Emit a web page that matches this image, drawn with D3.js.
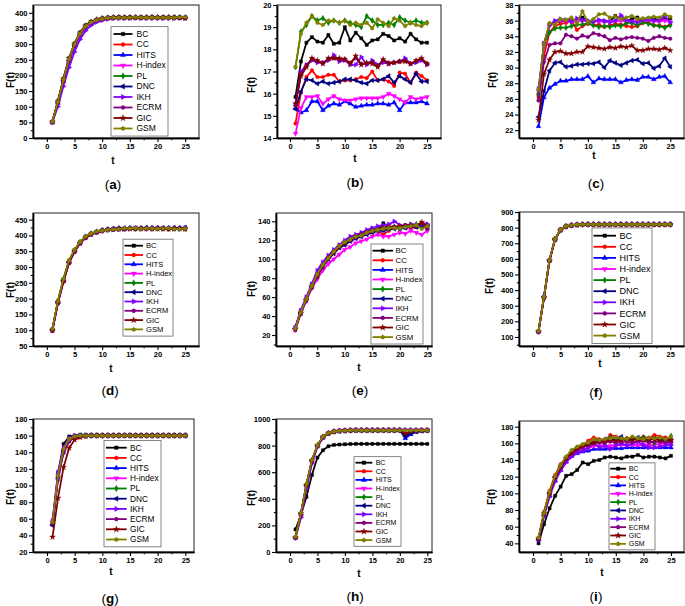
<!DOCTYPE html>
<html><head><meta charset="utf-8">
<script src="https://cdn.jsdelivr.net/npm/d3@7"></script>
<style>
body{margin:0;background:#fff}
svg{display:block}
text{font-family:"Liberation Sans",Arial,sans-serif}
</style>
</head><body>
<svg id="chart" width="685" height="606"></svg>
<script>
const tValues = [1,2,3,4,5,6,7,8,9,10,11,12,13,14,15,16,17,18,19,20,21,22,23,24,25];
const seriesNames = ["BC","CC","HITS","H-index","PL","DNC","IKH","ECRM","GIC","GSM"];
const xTickLabels = [0,5,10,15,20,25];

const panelA = [
 [52,118,190,255,302,337,360,372,378,382,385,385,386,385,386,385,386,385,386,385,386,385,385,386,385],
 [52,115,186,250,298,333,357,370,377,381,384,385,385,385,385,385,385,385,385,385,385,385,385,385,384],
 [51,112,182,246,295,330,355,368,376,380,383,384,385,384,385,385,384,385,385,385,384,385,385,384,385],
 [50,110,178,240,290,327,352,366,375,379,383,384,384,384,384,385,384,384,384,384,384,384,384,384,384],
 [52,116,188,252,300,335,358,371,378,382,384,385,385,385,385,386,385,385,385,385,385,385,385,385,385],
 [51,114,184,248,297,332,356,369,377,381,384,385,385,385,385,385,385,385,385,385,385,385,385,385,385],
 [50,100,165,225,275,315,343,360,370,376,380,382,383,383,383,384,383,383,383,383,383,383,383,384,383],
 [51,113,183,247,296,331,355,369,376,380,383,384,384,384,384,384,384,384,384,384,384,384,384,384,384],
 [52,117,189,254,301,336,359,371,378,382,384,385,386,385,385,385,385,385,386,385,385,386,385,385,383],
 [52,116,187,252,300,334,357,370,377,381,384,385,385,385,385,386,385,385,385,385,385,385,385,386,386]
];
const panelB = [
 [15.85,17.45,18.3,18.55,18.35,18.3,18.65,18.25,18.3,19.0,18.4,18.75,18.5,18.2,18.4,18.45,18.7,18.6,18.4,18.5,18.35,18.7,18.45,18.3,18.3],
 [14.65,16.05,16.75,17.05,16.75,16.75,16.85,16.85,16.55,16.6,16.6,16.65,16.75,16.7,17.0,16.6,16.65,16.55,16.35,16.95,16.9,16.5,16.95,16.8,16.6],
 [15.35,15.15,15.25,15.65,15.65,15.25,15.45,15.55,15.5,15.65,15.55,15.4,15.45,15.5,15.5,15.55,15.55,15.5,15.6,15.25,15.6,15.6,15.6,15.65,15.55],
 [14.2,15.35,15.85,15.85,15.9,15.55,15.75,15.9,15.75,15.7,15.7,15.75,15.8,15.8,15.8,15.8,15.85,16.0,15.9,15.75,15.6,15.85,15.75,15.8,15.85],
 [17.2,18.8,19.1,19.5,19.3,19.4,19.2,19.3,19.2,19.3,19.2,19.1,19.0,19.5,19.3,19.1,19.1,19.2,19.1,19.45,19.3,19.2,19.3,19.2,19.2],
 [15.3,16.1,16.65,16.6,16.45,16.55,16.45,16.5,16.55,16.65,16.65,16.6,16.5,16.45,16.6,16.6,16.65,16.8,16.5,16.8,16.65,16.5,16.9,16.55,16.55],
 [15.5,17.0,17.3,17.5,17.4,17.4,17.5,17.75,17.45,17.5,17.3,17.3,17.65,17.3,17.5,17.3,17.4,17.35,17.4,17.45,17.6,17.35,17.4,17.5,17.3],
 [15.45,16.9,17.3,17.55,17.45,17.4,17.55,17.6,17.5,17.55,17.4,17.6,17.35,17.35,17.45,17.25,17.5,17.4,17.4,17.45,17.5,17.35,17.45,17.55,17.35],
 [15.55,16.8,17.2,17.6,17.5,17.35,17.6,17.6,17.6,17.55,17.35,17.7,17.3,17.4,17.35,17.2,17.55,17.35,17.4,17.45,17.45,17.35,17.5,17.6,17.35],
 [17.2,18.7,19.2,19.5,19.2,19.1,19.3,19.3,19.2,19.3,19.1,19.2,19.1,19.2,18.95,19.35,19.2,19.05,19.4,19.3,19.05,19.2,19.1,19.05,19.2]
];
const panelC = [
 [26.6,33.0,35.5,35.8,35.9,36.0,36.1,36.1,36.4,35.8,35.9,36.0,35.9,35.9,36.6,36.2,36.0,36.2,36.4,35.9,36.0,36.3,36.0,36.2,36.3],
 [26.2,31.5,34.5,35.3,35.6,35.7,36.0,34.8,35.3,35.6,35.4,35.5,35.2,35.4,35.6,35.5,35.3,35.2,35.3,35.7,35.8,35.4,35.4,35.2,35.5],
 [22.5,26.2,27.4,27.9,28.3,28.3,28.5,28.5,28.5,28.9,28.1,28.6,28.5,28.5,28.5,28.1,28.4,28.5,28.4,28.8,28.8,28.5,28.8,28.9,28.1],
 [27.0,33.0,35.3,35.8,36.0,36.0,35.8,35.9,36.0,35.9,35.9,35.9,35.9,35.9,35.9,36.0,35.9,35.9,35.9,35.9,36.0,35.9,35.9,36.0,35.8],
 [26.5,33.0,34.5,35.0,35.1,35.1,35.3,35.5,35.5,35.7,35.4,35.2,35.3,35.2,35.4,35.3,35.7,35.7,35.4,35.8,35.6,35.4,35.3,35.1,35.4],
 [23.7,27.0,29.6,30.6,30.7,30.1,30.2,30.4,30.4,30.5,30.5,30.7,30.0,30.9,30.6,30.3,30.6,30.9,31.0,30.5,30.6,29.9,30.2,31.2,30.1],
 [27.3,33.1,35.4,36.0,36.2,36.1,35.9,36.3,36.1,36.0,35.9,36.1,36.0,35.8,36.0,36.7,36.1,35.9,35.8,36.1,36.2,36.0,36.1,36.6,35.8],
 [25.8,30.7,32.9,33.1,33.1,34.2,34.0,33.7,34.1,33.9,34.4,34.2,34.0,33.5,33.8,33.6,33.8,33.9,33.8,33.7,33.4,33.8,34.0,33.8,33.7],
 [23.3,29.2,31.0,32.0,32.1,31.8,31.8,32.0,32.0,32.7,32.6,32.5,32.4,32.6,32.5,32.7,32.6,32.8,32.2,32.2,32.4,32.4,32.3,32.5,32.2],
 [27.2,33.0,35.7,35.5,36.2,36.1,36.4,35.7,37.2,35.8,36.2,36.8,36.9,36.4,36.5,36.2,36.4,36.6,36.2,36.3,36.4,36.5,36.4,36.8,36.5]
];
const panelD = [
 [103,192,262,320,354,378,396,405,411,414,418,420,419,421,422,421,422,423,422,421,422,423,421,422,421],
 [101,190,259,317,352,377,394,404,410,415,417,419,420,420,421,422,421,421,422,421,422,421,422,421,422],
 [102,189,258,316,351,377,396,406,411,416,419,421,423,420,422,423,422,423,424,423,422,424,423,424,425],
 [100,187,255,313,349,375,393,404,410,415,418,420,421,421,422,425,422,421,422,423,423,422,422,422,423],
 [103,191,261,319,353,379,396,405,412,416,418,420,421,422,423,421,422,422,421,422,422,421,422,421,421],
 [101,188,257,315,350,376,394,404,411,416,419,421,422,423,423,423,423,424,423,424,424,423,424,423,424],
 [100,185,253,312,348,375,393,404,410,415,418,419,420,421,421,422,421,421,422,422,421,422,421,421,422],
 [98,186,254,313,349,376,393,404,411,414,418,419,420,421,421,421,422,421,421,422,421,421,422,421,421],
 [99,188,256,314,350,376,394,404,411,415,418,419,421,420,421,421,421,422,421,421,421,420,421,421,420],
 [104,193,263,321,355,379,397,406,413,415,418,419,420,423,422,423,421,422,422,421,422,423,421,421,422]
];
const panelE = [
 [27,45,58,73,84,93,100,108,114,118,121,122,124,128,132,131,138,133,134,132,136,135,135,137,134],
 [27,44,58,71,83,93,101,107,113,117,121,123,125,128,130,130,126,130,134,133,134,133,134,136,133],
 [28,45,59,72,85,95,102,109,113,116,120,124,127,128,129,131,130,132,133,134,133,135,134,135,136],
 [25,42,56,69,79,88,95,100,105,110,113,117,119,121,124,126,124,124,126,128,127,130,128,126,130],
 [27,44,58,72,84,94,102,108,114,118,122,125,127,129,130,132,133,132,134,133,135,136,137,135,136],
 [27,43,57,71,82,92,100,106,112,115,119,122,124,126,128,130,131,133,132,134,133,135,134,136,134],
 [28,46,60,74,88,97,104,110,115,120,124,126,128,131,133,135,136,137,140,136,135,137,136,138,137],
 [27,44,57,72,83,93,101,108,113,117,120,123,125,127,130,131,132,133,134,134,135,134,135,138,132],
 [26,43,57,71,82,93,101,107,113,117,121,124,126,128,130,131,133,134,134,135,135,136,135,139,135],
 [27,44,58,72,84,94,101,108,114,118,121,124,125,128,130,131,132,133,133,133,134,135,136,132,135]
];
const panelF = [
 [136,356,592,726,786,808,815,818,819,820,820,820,820,820,820,820,820,820,820,820,820,820,820,820,820],
 [134,352,588,724,784,807,815,818,819,820,820,820,820,820,820,820,820,820,820,820,820,820,820,820,820],
 [137,358,591,726,786,809,816,819,820,821,821,821,821,821,821,821,821,821,821,821,821,821,821,821,821],
 [132,350,585,722,783,806,814,818,819,820,820,820,820,820,820,820,820,820,820,820,820,820,820,820,820],
 [136,357,592,726,786,808,815,818,820,820,820,820,820,820,820,820,820,820,820,820,820,820,820,820,820],
 [135,355,590,725,785,808,815,818,820,820,820,820,820,820,820,820,820,820,820,820,820,820,820,820,820],
 [134,354,589,724,785,807,815,818,820,821,821,821,821,821,821,821,821,821,821,821,821,821,821,821,821],
 [133,351,587,723,784,807,814,818,819,820,820,820,820,820,820,820,820,820,820,820,820,820,820,820,820],
 [135,354,590,725,785,808,815,818,820,820,820,820,820,820,820,820,820,820,820,820,820,820,820,820,820],
 [138,357,593,727,787,809,816,819,820,820,820,820,820,820,820,820,820,820,820,820,820,820,820,820,820]
];
const panelG = [
 [55,115,150,159,160,161,161,161,161,161,161,161,161,161,161,161,161,161,161,161,161,161,161,161,161],
 [53,110,142,155,159,160,160,160,160,160,160,160,160,160,160,160,160,160,160,160,160,160,160,160,160],
 [54,112,143,156,159,160,160,160,160,160,160,160,160,160,160,160,160,160,160,160,160,160,160,160,160],
 [56,112,142,154,158,159,160,160,160,160,160,160,160,160,160,160,160,160,160,160,160,160,160,160,160],
 [55,111,144,156,159,160,160,160,160,160,160,160,160,160,160,160,160,160,160,160,160,160,160,160,160],
 [52,108,141,155,159,160,160,160,160,160,160,160,160,160,160,160,160,160,160,160,160,160,160,160,160],
 [58,116,146,157,160,160,160,160,160,160,160,160,160,160,160,160,160,160,160,160,160,160,160,160,160],
 [54,110,139,153,158,159,160,160,160,160,160,160,160,160,160,160,160,160,160,160,160,160,160,160,160],
 [38,85,122,145,155,158,159,160,160,160,160,160,160,160,160,160,160,160,160,160,160,160,160,160,160],
 [56,112,144,156,159,160,160,160,160,160,160,160,160,160,160,160,160,160,160,160,160,160,160,160,160]
];
const panelH = [
 [170,280,415,580,710,765,795,805,808,810,812,813,813,813,813,813,813,813,813,813,813,813,813,813,813],
 [110,290,505,690,800,865,893,905,910,912,914,915,915,915,915,915,915,915,915,915,880,900,908,912,914],
 [112,292,508,690,802,866,894,905,910,912,914,915,915,915,915,915,915,915,915,915,855,885,903,910,913],
 [105,265,485,670,795,860,893,906,912,915,917,918,918,918,918,918,918,918,918,918,918,918,918,918,918],
 [112,295,510,692,802,866,894,905,910,912,914,915,915,915,915,915,915,915,915,915,915,915,915,915,915],
 [110,288,500,688,798,864,893,905,910,912,914,915,915,915,915,915,915,915,915,915,870,895,905,911,914],
 [108,260,480,665,792,858,892,906,912,915,917,918,918,918,918,918,918,918,918,918,918,918,918,918,918],
 [108,285,500,685,797,863,893,905,910,913,915,916,916,916,916,916,916,916,916,916,916,916,916,916,916],
 [110,290,505,689,800,865,893,905,910,912,914,915,915,915,915,915,915,915,915,915,890,905,910,913,914],
 [115,295,512,694,804,868,895,906,911,913,915,915,915,915,915,915,915,915,915,915,915,915,915,915,915]
];
const panelI = [
 [40,63,82,97,108,121,123,128,137,135,139,140,143,144,143,142,144,144,146,143,144,144,143,142,145],
 [46,78,103,122,135,143,150,155,158,163,167,165,163,170,168,165,166,167,165,168,166,170,168,167,165],
 [45,74,97,116,128,138,145,148,150,151,153,153,153,154,154,154,155,155,155,155,155,155,155,155,155],
 [45,75,99,118,130,140,146,150,152,154,157,157,157,157,158,158,158,158,158,158,158,158,159,160,160],
 [46,77,101,120,133,142,149,154,157,160,162,162,160,167,163,165,165,166,165,167,164,160,165,162,169],
 [44,74,100,119,131,141,148,152,156,158,161,162,165,166,165,168,163,165,167,165,164,166,165,164,163],
 [44,73,96,114,127,137,144,149,151,155,160,155,157,153,157,160,157,160,162,158,155,155,156,158,158],
 [45,75,99,118,130,141,147,152,155,158,160,161,161,162,161,162,162,161,163,163,161,162,162,161,162],
 [46,76,100,119,132,142,149,154,157,159,161,163,163,164,163,164,165,164,165,164,165,165,164,165,164],
 [47,77,102,121,134,144,152,156,159,161,165,164,165,166,167,166,165,168,166,165,167,166,167,165,168]
];

const yTicksA = [0,50,100,150,200,250,300,350,400];
const yTicksB = [14,15,16,17,18,19,20];
const yTicksC = [22,24,26,28,30,32,34,36,38];
const yTicksD = [50,100,150,200,250,300,350,400,450];
const yTicksE = [20,40,60,80,100,120,140];
const yTicksF = [100,200,300,400,500,600,700,800,900];
const yTicksG = [20,40,60,80,100,120,140,160,180];
const yTicksH = [0,200,400,600,800,1000];
const yTicksI = [40,60,80,100,120,140,160,180];

// ---- styles ----
const colors = ["#000000","#FF0000","#0000FF","#FF00FF","#008000","#000080","#8000FF","#800080","#800000","#808000"];
function polySymbol(n, rot){
  return {draw(ctx, size){
    const r = Math.sqrt(size / (n/2*Math.sin(2*Math.PI/n)));
    for(let k=0;k<n;k++){
      const a = rot + k*2*Math.PI/n;
      const px = r*Math.cos(a), py = r*Math.sin(a);
      if(k===0) ctx.moveTo(px,py); else ctx.lineTo(px,py);
    }
    ctx.closePath();
  }};
}
const markerDefs = [
  {type:d3.symbolSquare, rot:0},
  {type:d3.symbolCircle, rot:0},
  {type:d3.symbolTriangle, rot:0},
  {type:d3.symbolTriangle, rot:180},
  {type:d3.symbolDiamond, rot:0},
  {type:d3.symbolTriangle, rot:-90},
  {type:d3.symbolTriangle, rot:90},
  {type:polySymbol(6,0), rot:0},
  {type:d3.symbolStar, rot:0},
  {type:polySymbol(5,-Math.PI/2), rot:0}
];

const panels = [
 {data:panelA, yt:yTicksA, lab:"a", f:[33,199,5,138], xd:[-2.5,27.5], yd:[0,425],
  yl:[10,80], tl:[113,164], pl:[113,189], leg:{x:111,w:57,lx0:113.5,lx1:132.5,tx:136.5,y0:34,step:10.5,fs:8.5}},
 {data:panelB, yt:yTicksB, lab:"b", f:[277,441,5,138], xd:[-2.37,27.55], yd:[14,20],
  yl:[251,85], tl:[355,162], pl:[355,187], leg:null},
 {data:panelC, yt:yTicksC, lab:"c", f:[519,684,5,138], xd:[-2.55,27.5], yd:[21,38],
  yl:[492,80], tl:[594,159], pl:[596,188], leg:null},
 {data:panelD, yt:yTicksD, lab:"d", f:[33,199,213,346], xd:[-2.5,27.5], yd:[50,471],
  yl:[10,290], tl:[111,372], pl:[110,395], leg:{x:123,w:50,lx0:124.5,lx1:143,tx:146,y0:245.7,step:9.3,fs:7.6}},
 {data:panelE, yt:yTicksE, lab:"e", f:[276,432,213,346], xd:[-2.49,25.85], yd:[8.4,148.8],
  yl:[251,289], tl:[359,371], pl:[360,395], leg:{x:371,w:52,lx0:372.5,lx1:393,tx:395.5,y0:250.7,step:9.6,fs:7.8}},
 {data:panelF, yt:yTicksF, lab:"f", f:[519,684,212,346], xd:[-2.55,27.5], yd:[42,900],
  yl:[489,286], tl:[600,367], pl:[596,397], leg:{x:592,w:60,lx0:593.5,lx1:616,tx:619.5,y0:235.7,step:11.1,fs:9}},
 {data:panelG, yt:yTicksG, lab:"g", f:[33,194,419,552], xd:[-2.53,26.57], yd:[20,180],
  yl:[10,497], tl:[111,575], pl:[110,603], leg:{x:104,w:57,lx0:106,lx1:126.7,tx:130,y0:447.7,step:10.2,fs:8.3}},
 {data:panelH, yt:yTicksH, lab:"h", f:[276,432,419,552], xd:[-2.55,25.86], yd:[0,1000],
  yl:[251,498], tl:[359,577], pl:[355,601], leg:{x:354,w:47,lx0:355.5,lx1:372.3,tx:375.7,y0:462.7,step:8.6,fs:7}},
 {data:panelI, yt:yTicksI, lab:"i", f:[519,684,421,552], xd:[-2.54,27.36], yd:[29.6,186.8],
  yl:[491,497], tl:[602,576], pl:[596,601], leg:{x:609,w:46,lx0:610.3,lx1:626,tx:628.7,y0:468.7,step:8.35,fs:7}}
];

const svg = d3.select("#chart");
const tickFont = 7.5;

function symbolPath(i, size){
  return d3.symbol().type(markerDefs[i].type).size(size)();
}

panels.forEach(p => {
  const g = svg.append("g");
  const [x0,x1,y0,y1] = p.f;
  const x = d3.scaleLinear().domain(p.xd).range([x0,x1]);
  const y = d3.scaleLinear().domain(p.yd).range([y1,y0]);

  // frame
  g.append("rect").attr("x",x0).attr("y",y0).attr("width",x1-x0).attr("height",y1-y0)
    .attr("fill","#fff").attr("stroke","#222").attr("stroke-width",1);

  // minor ticks
  const xMinor = [];
  xTickLabels.forEach(v => { [v-2.5, v+2.5].forEach(m => { if(m>p.xd[0]+0.3 && m<p.xd[1]-0.3 && !xMinor.includes(m)) xMinor.push(m); }); });
  const ys = p.yt[1]-p.yt[0];
  const yMinor = [];
  p.yt.forEach(v => { [v-ys/2, v+ys/2].forEach(m => { if(m>p.yd[0]+ys*0.05 && m<p.yd[1]-ys*0.05 && !yMinor.includes(m)) yMinor.push(m); }); });

  const gx = g.append("g").attr("transform",`translate(0,${y1})`)
    .call(d3.axisBottom(x).tickValues(xTickLabels).tickSize(4).tickSizeOuter(0).tickPadding(2).tickFormat(d3.format("d")));
  const gxm = g.append("g").attr("transform",`translate(0,${y1})`)
    .call(d3.axisBottom(x).tickValues(xMinor).tickSize(2.2).tickSizeOuter(0).tickFormat(""));
  const gy = g.append("g").attr("transform",`translate(${x0},0)`)
    .call(d3.axisLeft(y).tickValues(p.yt).tickSize(4).tickSizeOuter(0).tickPadding(1.5).tickFormat(d3.format("d")));
  const gym = g.append("g").attr("transform",`translate(${x0},0)`)
    .call(d3.axisLeft(y).tickValues(yMinor).tickSize(2.2).tickSizeOuter(0).tickFormat(""));
  [gx,gxm,gy,gym].forEach(a => {
    a.select(".domain").attr("stroke","#000").attr("stroke-width",1.4);
    a.selectAll(".tick line").attr("stroke","#000").attr("stroke-width",1.1);
    a.selectAll("text").attr("font-size",tickFont).attr("font-weight","bold")
      .attr("font-family","'Liberation Sans',Arial,sans-serif").attr("fill","#000");
  });

  // series
  const line = d3.line().x((d,i)=>x(tValues[i])).y(d=>y(d));
  p.data.forEach((vals, si) => {
    g.append("path").attr("d", line(vals)).attr("fill","none")
      .attr("stroke",colors[si]).attr("stroke-width",1.75).attr("stroke-linejoin","round");
    g.append("g").selectAll("path").data(vals).join("path")
      .attr("d", symbolPath(si, 10))
      .attr("transform",(d,i)=>`translate(${x(tValues[i])},${y(d)}) rotate(${markerDefs[si].rot})`)
      .attr("fill",colors[si]).attr("stroke",colors[si]).attr("stroke-width",0.4);
  });

  // legend
  if(p.leg){
    const L = p.leg;
    const top = L.y0 - L.step*0.7, bot = L.y0 + L.step*9 + L.step*0.72;
    g.append("rect").attr("x",L.x).attr("y",top).attr("width",L.w).attr("height",bot-top)
      .attr("fill","#fff").attr("stroke","#666").attr("stroke-width",0.8);
    seriesNames.forEach((name, si) => {
      const yy = L.y0 + si*L.step;
      g.append("line").attr("x1",L.lx0).attr("x2",L.lx1).attr("y1",yy).attr("y2",yy)
        .attr("stroke",colors[si]).attr("stroke-width",1.8);
      g.append("path").attr("d",symbolPath(si, 12))
        .attr("transform",`translate(${(L.lx0+L.lx1)/2},${yy}) rotate(${markerDefs[si].rot})`)
        .attr("fill",colors[si]).attr("stroke",colors[si]).attr("stroke-width",0.4);
      g.append("text").attr("x",L.tx).attr("y",yy).attr("dy","0.35em")
        .attr("font-size",L.fs).attr("fill","#000").text(name);
    });
  }

  // axis titles
  g.append("text").attr("transform",`translate(${p.yl[0]},${p.yl[1]}) rotate(-90)`)
    .attr("text-anchor","middle").attr("dy","0.35em").attr("font-size",10).attr("font-weight","bold").text("F(t)");
  g.append("text").attr("x",p.tl[0]).attr("y",p.tl[1]).attr("text-anchor","middle")
    .attr("font-size",10).attr("font-weight","bold").text("t");
  const pt = g.append("text").attr("x",p.pl[0]).attr("y",p.pl[1]).attr("text-anchor","middle").attr("font-size",13.5);
  pt.append("tspan").text("(");
  pt.append("tspan").attr("font-weight","bold").text(p.lab);
  pt.append("tspan").text(")");
});
</script>
</body></html>
